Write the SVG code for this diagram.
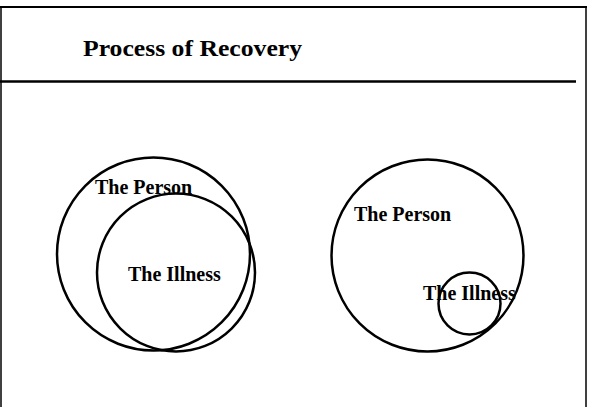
<svg xmlns="http://www.w3.org/2000/svg" width="595" height="407" viewBox="0 0 595 407">
<style>
.frame{stroke:#000;fill:none}
.c{fill:none;stroke:#000;stroke-width:2.5}
.t{font-family:"Liberation Serif","Times New Roman",serif;font-weight:bold;fill:#000}
.lbl{font-size:20px}
.title{font-size:24px}
</style>
<rect width="595" height="407" fill="#fff"/>
<g id="frame">
<line class="frame" x1="1" y1="6" x2="1" y2="407" stroke-width="1.5"/>
<line class="frame" x1="0" y1="7" x2="587" y2="7" stroke-width="2"/>
<line class="frame" x1="586" y1="6" x2="586" y2="407" stroke-width="1.5"/>
<line class="frame" x1="0" y1="81.5" x2="576" y2="81.5" stroke-width="2.5"/>
</g>
<g id="title"><text class="t title" x="83" y="56" textLength="219" lengthAdjust="spacingAndGlyphs">Process of Recovery</text></g>
<g id="left-person"><circle class="c" cx="153.5" cy="254" r="96.5"/></g>
<g id="left-illness"><circle class="c" cx="176" cy="272.5" r="79"/></g>
<g id="right-person"><circle class="c" cx="427.5" cy="255.5" r="96"/></g>
<g id="right-illness"><circle class="c" cx="469.5" cy="303.5" r="31"/></g>
<g id="labels">
<text class="t lbl" x="95" y="194">The Person</text>
<text class="t lbl" x="128" y="281">The Illness</text>
<text class="t lbl" x="354" y="221">The Person</text>
<text class="t lbl" x="423" y="299.5">The Illness</text>
</g>
</svg>
